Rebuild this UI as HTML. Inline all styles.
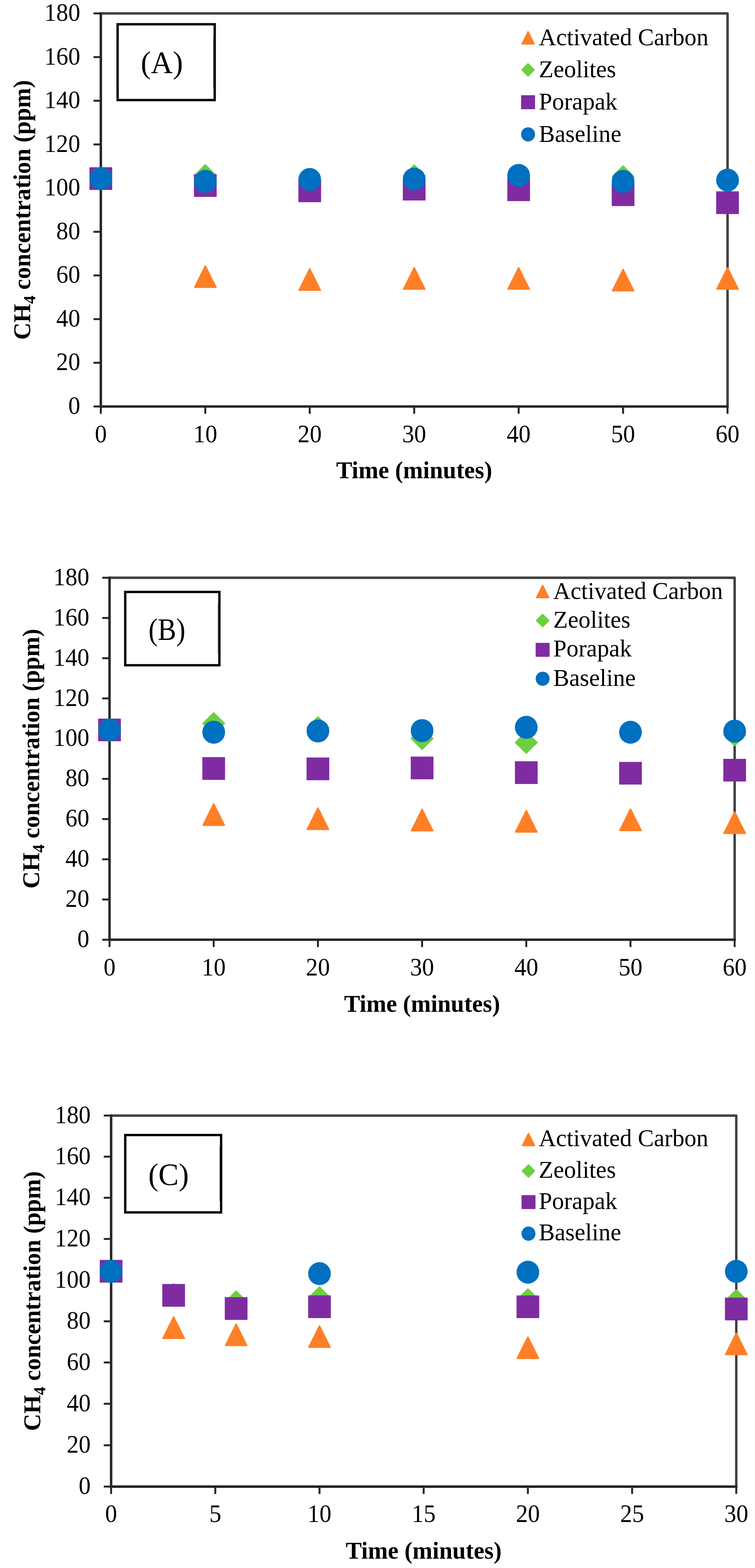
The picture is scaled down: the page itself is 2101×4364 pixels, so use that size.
<!DOCTYPE html>
<html lang="en">
<head>
<meta charset="utf-8">
<title>CH4 concentration vs time</title>
<style>
html,body{margin:0;padding:0;background:#fff;}
body{width:2101px;height:4364px;overflow:hidden;}
svg{display:block;}
text{font-family:"Liberation Serif",serif;fill:#000;}
.t{font-size:66.67px;}
.k{font-size:70.2px;}
.b{font-size:68.2px;font-weight:bold;}
.l{font-size:87.0px;}
</style>
</head>
<body>
<svg width="2101" height="4364" viewBox="0 0 2101 4364">
<rect x="0" y="0" width="2101" height="4364" fill="#ffffff"/>

<g id="chartA">
<path d="M280.6,37.3 H2024.6 V1131.3" fill="none" stroke="#404040" stroke-width="6.8" stroke-linejoin="round"/>
<line x1="260.2" y1="1131.3" x2="280.6" y2="1131.3" stroke="#262626" stroke-width="5.4"/>
<text class="k" transform="translate(223.3,1152.0) scale(0.95,1)" text-anchor="end">0</text>
<line x1="260.2" y1="1009.7" x2="280.6" y2="1009.7" stroke="#262626" stroke-width="5.4"/>
<text class="k" transform="translate(223.3,1030.4) scale(0.95,1)" text-anchor="end">20</text>
<line x1="260.2" y1="888.2" x2="280.6" y2="888.2" stroke="#262626" stroke-width="5.4"/>
<text class="k" transform="translate(223.3,908.9) scale(0.95,1)" text-anchor="end">40</text>
<line x1="260.2" y1="766.6" x2="280.6" y2="766.6" stroke="#262626" stroke-width="5.4"/>
<text class="k" transform="translate(223.3,787.3) scale(0.95,1)" text-anchor="end">60</text>
<line x1="260.2" y1="645.1" x2="280.6" y2="645.1" stroke="#262626" stroke-width="5.4"/>
<text class="k" transform="translate(223.3,665.8) scale(0.95,1)" text-anchor="end">80</text>
<line x1="260.2" y1="523.5" x2="280.6" y2="523.5" stroke="#262626" stroke-width="5.4"/>
<text class="k" transform="translate(223.3,544.2) scale(0.95,1)" text-anchor="end">100</text>
<line x1="260.2" y1="402.0" x2="280.6" y2="402.0" stroke="#262626" stroke-width="5.4"/>
<text class="k" transform="translate(223.3,422.7) scale(0.95,1)" text-anchor="end">120</text>
<line x1="260.2" y1="280.4" x2="280.6" y2="280.4" stroke="#262626" stroke-width="5.4"/>
<text class="k" transform="translate(223.3,301.1) scale(0.95,1)" text-anchor="end">140</text>
<line x1="260.2" y1="158.9" x2="280.6" y2="158.9" stroke="#262626" stroke-width="5.4"/>
<text class="k" transform="translate(223.3,179.6) scale(0.95,1)" text-anchor="end">160</text>
<line x1="260.2" y1="37.3" x2="280.6" y2="37.3" stroke="#262626" stroke-width="5.4"/>
<text class="k" transform="translate(223.3,58.0) scale(0.95,1)" text-anchor="end">180</text>
<line x1="280.6" y1="1131.3" x2="280.6" y2="1151.7" stroke="#262626" stroke-width="5.4"/>
<text class="k" transform="translate(280.6,1231.1) scale(0.95,1)" text-anchor="middle">0</text>
<line x1="571.3" y1="1131.3" x2="571.3" y2="1151.7" stroke="#262626" stroke-width="5.4"/>
<text class="k" transform="translate(571.3,1231.1) scale(0.95,1)" text-anchor="middle">10</text>
<line x1="861.9" y1="1131.3" x2="861.9" y2="1151.7" stroke="#262626" stroke-width="5.4"/>
<text class="k" transform="translate(861.9,1231.1) scale(0.95,1)" text-anchor="middle">20</text>
<line x1="1152.6" y1="1131.3" x2="1152.6" y2="1151.7" stroke="#262626" stroke-width="5.4"/>
<text class="k" transform="translate(1152.6,1231.1) scale(0.95,1)" text-anchor="middle">30</text>
<line x1="1443.3" y1="1131.3" x2="1443.3" y2="1151.7" stroke="#262626" stroke-width="5.4"/>
<text class="k" transform="translate(1443.3,1231.1) scale(0.95,1)" text-anchor="middle">40</text>
<line x1="1733.9" y1="1131.3" x2="1733.9" y2="1151.7" stroke="#262626" stroke-width="5.4"/>
<text class="k" transform="translate(1733.9,1231.1) scale(0.95,1)" text-anchor="middle">50</text>
<line x1="2024.6" y1="1131.3" x2="2024.6" y2="1151.7" stroke="#262626" stroke-width="5.4"/>
<text class="k" transform="translate(2024.6,1231.1) scale(0.95,1)" text-anchor="middle">60</text>
<line x1="280.6" y1="33.9" x2="280.6" y2="1134.7" stroke="#262626" stroke-width="6.8"/>
<line x1="277.2" y1="1131.3" x2="2028.0" y2="1131.3" stroke="#262626" stroke-width="6.8"/>
<text class="b" transform="translate(1152.6,1331.3) scale(0.978,1)" text-anchor="middle">Time (minutes)</text>
<text class="b" transform="translate(84.0,584.3) rotate(-90) scale(0.978,1)" text-anchor="middle">CH<tspan font-size="47.1" dy="14">4</tspan><tspan dy="-14"> concentration (ppm)</tspan></text>
<rect x="327.3" y="67.5" width="270.2" height="211.0" fill="#fff" stroke="#000" stroke-width="6.5"/>
<line x1="331.2" y1="98.5" x2="331.2" y2="247.5" stroke="#c8c8c8" stroke-width="1.5"/>
<line x1="593.5" y1="98.5" x2="593.5" y2="247.5" stroke="#8c8c8c" stroke-width="1.5"/>
<text class="l" transform="translate(450.4,203.0) scale(0.972,1)" text-anchor="middle">(A)</text>
<polygon points="280.6,467.4 310.2,526.6 251.0,526.6" fill="#FF7F27" stroke="#FF7F27" stroke-width="4.0" stroke-linejoin="round"/>
<polygon points="571.3,740.4 600.9,799.6 541.7,799.6" fill="#FF7F27" stroke="#FF7F27" stroke-width="4.0" stroke-linejoin="round"/>
<polygon points="861.9,748.4 891.5,807.6 832.3,807.6" fill="#FF7F27" stroke="#FF7F27" stroke-width="4.0" stroke-linejoin="round"/>
<polygon points="1152.6,745.4 1182.2,804.6 1123.0,804.6" fill="#FF7F27" stroke="#FF7F27" stroke-width="4.0" stroke-linejoin="round"/>
<polygon points="1443.3,745.4 1472.9,804.6 1413.7,804.6" fill="#FF7F27" stroke="#FF7F27" stroke-width="4.0" stroke-linejoin="round"/>
<polygon points="1733.9,750.1 1763.5,809.3 1704.3,809.3" fill="#FF7F27" stroke="#FF7F27" stroke-width="4.0" stroke-linejoin="round"/>
<polygon points="2024.6,745.4 2054.2,804.6 1995.0,804.6" fill="#FF7F27" stroke="#FF7F27" stroke-width="4.0" stroke-linejoin="round"/>
<polygon points="280.6,467.4 310.2,497.0 280.6,526.6 251.0,497.0" fill="#6CCF3E" stroke="#6CCF3E" stroke-width="4.0" stroke-linejoin="round"/>
<polygon points="571.3,458.8 600.9,488.4 571.3,518.0 541.7,488.4" fill="#6CCF3E" stroke="#6CCF3E" stroke-width="4.0" stroke-linejoin="round"/>
<polygon points="861.9,475.4 891.5,505.0 861.9,534.6 832.3,505.0" fill="#6CCF3E" stroke="#6CCF3E" stroke-width="4.0" stroke-linejoin="round"/>
<polygon points="1152.6,459.9 1182.2,489.5 1152.6,519.1 1123.0,489.5" fill="#6CCF3E" stroke="#6CCF3E" stroke-width="4.0" stroke-linejoin="round"/>
<polygon points="1443.3,465.4 1472.9,495.0 1443.3,524.6 1413.7,495.0" fill="#6CCF3E" stroke="#6CCF3E" stroke-width="4.0" stroke-linejoin="round"/>
<polygon points="1733.9,462.2 1763.5,491.8 1733.9,521.4 1704.3,491.8" fill="#6CCF3E" stroke="#6CCF3E" stroke-width="4.0" stroke-linejoin="round"/>
<polygon points="2024.6,480.9 2054.2,510.5 2024.6,540.1 1995.0,510.5" fill="#6CCF3E" stroke="#6CCF3E" stroke-width="4.0" stroke-linejoin="round"/>
<rect x="249.0" y="465.4" width="63.2" height="63.2" rx="1.2" fill="#7F2CA2"/>
<rect x="539.7" y="484.8" width="63.2" height="63.2" rx="1.2" fill="#7F2CA2"/>
<rect x="830.3" y="499.5" width="63.2" height="63.2" rx="1.2" fill="#7F2CA2"/>
<rect x="1121.0" y="494.9" width="63.2" height="63.2" rx="1.2" fill="#7F2CA2"/>
<rect x="1411.7" y="496.5" width="63.2" height="63.2" rx="1.2" fill="#7F2CA2"/>
<rect x="1702.3" y="510.4" width="63.2" height="63.2" rx="1.2" fill="#7F2CA2"/>
<rect x="1993.0" y="532.6" width="63.2" height="63.2" rx="1.2" fill="#7F2CA2"/>
<ellipse cx="280.6" cy="497.3" rx="31.60" ry="32.00" fill="#0070C0"/>
<ellipse cx="571.3" cy="504.8" rx="31.60" ry="32.00" fill="#0070C0"/>
<ellipse cx="861.9" cy="499.6" rx="31.60" ry="32.00" fill="#0070C0"/>
<ellipse cx="1152.6" cy="498.5" rx="31.60" ry="32.00" fill="#0070C0"/>
<ellipse cx="1443.3" cy="488.2" rx="31.60" ry="32.00" fill="#0070C0"/>
<ellipse cx="1733.9" cy="505.0" rx="31.60" ry="32.00" fill="#0070C0"/>
<ellipse cx="2024.6" cy="501.2" rx="31.60" ry="32.00" fill="#0070C0"/>
<polygon points="1469.5,88.3 1486.4,122.1 1452.6,122.1" fill="#FF7F27" stroke="#FF7F27" stroke-width="3.6" stroke-linejoin="round"/>
<text class="t" x="1499.5" y="126.4">Activated Carbon</text>
<polygon points="1469.5,177.6 1486.4,194.5 1469.5,211.4 1452.6,194.5" fill="#6CCF3E" stroke="#6CCF3E" stroke-width="3.6" stroke-linejoin="round"/>
<text class="t" x="1499.5" y="214.8">Zeolites</text>
<rect x="1450.1" y="265.1" width="38.8" height="38.8" rx="1.1" fill="#7F2CA2"/>
<text class="t" x="1499.5" y="305.3">Porapak</text>
<ellipse cx="1469.5" cy="374.0" rx="19.40" ry="19.80" fill="#0070C0"/>
<text class="t" x="1499.5" y="394.5">Baseline</text>
</g>
<g id="chartB">
<path d="M304.8,1608.0 H2044.4 V2615.4" fill="none" stroke="#404040" stroke-width="6.8" stroke-linejoin="round"/>
<line x1="284.4" y1="2615.4" x2="304.8" y2="2615.4" stroke="#262626" stroke-width="5.4"/>
<text class="k" transform="translate(248.6,2636.1) scale(0.95,1)" text-anchor="end">0</text>
<line x1="284.4" y1="2503.5" x2="304.8" y2="2503.5" stroke="#262626" stroke-width="5.4"/>
<text class="k" transform="translate(248.6,2524.2) scale(0.95,1)" text-anchor="end">20</text>
<line x1="284.4" y1="2391.5" x2="304.8" y2="2391.5" stroke="#262626" stroke-width="5.4"/>
<text class="k" transform="translate(248.6,2412.2) scale(0.95,1)" text-anchor="end">40</text>
<line x1="284.4" y1="2279.6" x2="304.8" y2="2279.6" stroke="#262626" stroke-width="5.4"/>
<text class="k" transform="translate(248.6,2300.3) scale(0.95,1)" text-anchor="end">60</text>
<line x1="284.4" y1="2167.7" x2="304.8" y2="2167.7" stroke="#262626" stroke-width="5.4"/>
<text class="k" transform="translate(248.6,2188.4) scale(0.95,1)" text-anchor="end">80</text>
<line x1="284.4" y1="2055.7" x2="304.8" y2="2055.7" stroke="#262626" stroke-width="5.4"/>
<text class="k" transform="translate(248.6,2076.4) scale(0.95,1)" text-anchor="end">100</text>
<line x1="284.4" y1="1943.8" x2="304.8" y2="1943.8" stroke="#262626" stroke-width="5.4"/>
<text class="k" transform="translate(248.6,1964.5) scale(0.95,1)" text-anchor="end">120</text>
<line x1="284.4" y1="1831.9" x2="304.8" y2="1831.9" stroke="#262626" stroke-width="5.4"/>
<text class="k" transform="translate(248.6,1852.6) scale(0.95,1)" text-anchor="end">140</text>
<line x1="284.4" y1="1719.9" x2="304.8" y2="1719.9" stroke="#262626" stroke-width="5.4"/>
<text class="k" transform="translate(248.6,1740.6) scale(0.95,1)" text-anchor="end">160</text>
<line x1="284.4" y1="1608.0" x2="304.8" y2="1608.0" stroke="#262626" stroke-width="5.4"/>
<text class="k" transform="translate(248.6,1628.7) scale(0.95,1)" text-anchor="end">180</text>
<line x1="304.8" y1="2615.4" x2="304.8" y2="2635.8" stroke="#262626" stroke-width="5.4"/>
<text class="k" transform="translate(304.8,2715.2) scale(0.95,1)" text-anchor="middle">0</text>
<line x1="594.7" y1="2615.4" x2="594.7" y2="2635.8" stroke="#262626" stroke-width="5.4"/>
<text class="k" transform="translate(594.7,2715.2) scale(0.95,1)" text-anchor="middle">10</text>
<line x1="884.7" y1="2615.4" x2="884.7" y2="2635.8" stroke="#262626" stroke-width="5.4"/>
<text class="k" transform="translate(884.7,2715.2) scale(0.95,1)" text-anchor="middle">20</text>
<line x1="1174.6" y1="2615.4" x2="1174.6" y2="2635.8" stroke="#262626" stroke-width="5.4"/>
<text class="k" transform="translate(1174.6,2715.2) scale(0.95,1)" text-anchor="middle">30</text>
<line x1="1464.5" y1="2615.4" x2="1464.5" y2="2635.8" stroke="#262626" stroke-width="5.4"/>
<text class="k" transform="translate(1464.5,2715.2) scale(0.95,1)" text-anchor="middle">40</text>
<line x1="1754.5" y1="2615.4" x2="1754.5" y2="2635.8" stroke="#262626" stroke-width="5.4"/>
<text class="k" transform="translate(1754.5,2715.2) scale(0.95,1)" text-anchor="middle">50</text>
<line x1="2044.4" y1="2615.4" x2="2044.4" y2="2635.8" stroke="#262626" stroke-width="5.4"/>
<text class="k" transform="translate(2044.4,2715.2) scale(0.95,1)" text-anchor="middle">60</text>
<line x1="304.8" y1="1604.6" x2="304.8" y2="2618.8" stroke="#262626" stroke-width="6.8"/>
<line x1="301.4" y1="2615.4" x2="2047.8" y2="2615.4" stroke="#262626" stroke-width="6.8"/>
<text class="b" transform="translate(1174.6,2816.0) scale(0.978,1)" text-anchor="middle">Time (minutes)</text>
<text class="b" transform="translate(109.0,2111.7) rotate(-90) scale(0.978,1)" text-anchor="middle">CH<tspan font-size="47.1" dy="14">4</tspan><tspan dy="-14"> concentration (ppm)</tspan></text>
<rect x="348.5" y="1647.5" width="262.0" height="204.0" fill="#fff" stroke="#000" stroke-width="6.5"/>
<line x1="352.4" y1="1678.5" x2="352.4" y2="1820.5" stroke="#c8c8c8" stroke-width="1.5"/>
<line x1="606.5" y1="1678.5" x2="606.5" y2="1820.5" stroke="#8c8c8c" stroke-width="1.5"/>
<text class="l" transform="translate(464.6,1781.2) scale(0.884,1)" text-anchor="middle">(B)</text>
<polygon points="304.8,2001.9 334.4,2061.1 275.2,2061.1" fill="#FF7F27" stroke="#FF7F27" stroke-width="4.0" stroke-linejoin="round"/>
<polygon points="594.7,2237.5 624.3,2296.7 565.1,2296.7" fill="#FF7F27" stroke="#FF7F27" stroke-width="4.0" stroke-linejoin="round"/>
<polygon points="884.7,2249.0 914.3,2308.2 855.1,2308.2" fill="#FF7F27" stroke="#FF7F27" stroke-width="4.0" stroke-linejoin="round"/>
<polygon points="1174.6,2252.7 1204.2,2311.9 1145.0,2311.9" fill="#FF7F27" stroke="#FF7F27" stroke-width="4.0" stroke-linejoin="round"/>
<polygon points="1464.5,2256.2 1494.1,2315.4 1434.9,2315.4" fill="#FF7F27" stroke="#FF7F27" stroke-width="4.0" stroke-linejoin="round"/>
<polygon points="1754.5,2252.0 1784.1,2311.2 1724.9,2311.2" fill="#FF7F27" stroke="#FF7F27" stroke-width="4.0" stroke-linejoin="round"/>
<polygon points="2044.4,2260.0 2074.0,2319.2 2014.8,2319.2" fill="#FF7F27" stroke="#FF7F27" stroke-width="4.0" stroke-linejoin="round"/>
<polygon points="304.8,2001.9 334.4,2031.5 304.8,2061.1 275.2,2031.5" fill="#6CCF3E" stroke="#6CCF3E" stroke-width="4.0" stroke-linejoin="round"/>
<polygon points="594.7,1984.1 624.3,2013.7 594.7,2043.3 565.1,2013.7" fill="#6CCF3E" stroke="#6CCF3E" stroke-width="4.0" stroke-linejoin="round"/>
<polygon points="884.7,1995.6 914.3,2025.2 884.7,2054.8 855.1,2025.2" fill="#6CCF3E" stroke="#6CCF3E" stroke-width="4.0" stroke-linejoin="round"/>
<polygon points="1174.6,2025.9 1204.2,2055.5 1174.6,2085.1 1145.0,2055.5" fill="#6CCF3E" stroke="#6CCF3E" stroke-width="4.0" stroke-linejoin="round"/>
<polygon points="1464.5,2036.7 1494.1,2066.3 1464.5,2095.9 1434.9,2066.3" fill="#6CCF3E" stroke="#6CCF3E" stroke-width="4.0" stroke-linejoin="round"/>
<polygon points="1754.5,2008.1 1784.1,2037.7 1754.5,2067.3 1724.9,2037.7" fill="#6CCF3E" stroke="#6CCF3E" stroke-width="4.0" stroke-linejoin="round"/>
<polygon points="2044.4,2015.9 2074.0,2045.5 2044.4,2075.1 2014.8,2045.5" fill="#6CCF3E" stroke="#6CCF3E" stroke-width="4.0" stroke-linejoin="round"/>
<rect x="273.2" y="1999.9" width="63.2" height="63.2" rx="1.2" fill="#7F2CA2"/>
<rect x="563.1" y="2107.2" width="63.2" height="63.2" rx="1.2" fill="#7F2CA2"/>
<rect x="853.1" y="2108.3" width="63.2" height="63.2" rx="1.2" fill="#7F2CA2"/>
<rect x="1143.0" y="2105.8" width="63.2" height="63.2" rx="1.2" fill="#7F2CA2"/>
<rect x="1432.9" y="2118.8" width="63.2" height="63.2" rx="1.2" fill="#7F2CA2"/>
<rect x="1722.9" y="2120.4" width="63.2" height="63.2" rx="1.2" fill="#7F2CA2"/>
<rect x="2012.8" y="2111.9" width="63.2" height="63.2" rx="1.2" fill="#7F2CA2"/>
<ellipse cx="304.8" cy="2031.8" rx="31.60" ry="32.00" fill="#0070C0"/>
<ellipse cx="594.7" cy="2037.9" rx="31.60" ry="32.00" fill="#0070C0"/>
<ellipse cx="884.7" cy="2034.5" rx="31.60" ry="32.00" fill="#0070C0"/>
<ellipse cx="1174.6" cy="2033.4" rx="31.60" ry="32.00" fill="#0070C0"/>
<ellipse cx="1464.5" cy="2024.2" rx="31.60" ry="32.00" fill="#0070C0"/>
<ellipse cx="1754.5" cy="2038.0" rx="31.60" ry="32.00" fill="#0070C0"/>
<ellipse cx="2044.4" cy="2034.9" rx="31.60" ry="32.00" fill="#0070C0"/>
<polygon points="1510.0,1629.3 1526.9,1663.1 1493.1,1663.1" fill="#FF7F27" stroke="#FF7F27" stroke-width="3.6" stroke-linejoin="round"/>
<text class="t" x="1539.5" y="1666.7">Activated Carbon</text>
<polygon points="1510.0,1710.1 1526.9,1727.0 1510.0,1743.9 1493.1,1727.0" fill="#6CCF3E" stroke="#6CCF3E" stroke-width="3.6" stroke-linejoin="round"/>
<text class="t" x="1539.5" y="1746.5">Zeolites</text>
<rect x="1490.6" y="1789.3" width="38.8" height="38.8" rx="1.1" fill="#7F2CA2"/>
<text class="t" x="1539.5" y="1827.2">Porapak</text>
<ellipse cx="1510.0" cy="1889.0" rx="19.40" ry="19.80" fill="#0070C0"/>
<text class="t" x="1539.5" y="1909.3">Baseline</text>
</g>
<g id="chartC">
<path d="M309.2,3104.8 H2048.9 V4137.5" fill="none" stroke="#404040" stroke-width="6.8" stroke-linejoin="round"/>
<line x1="288.8" y1="4137.4" x2="309.2" y2="4137.4" stroke="#262626" stroke-width="5.4"/>
<text class="k" transform="translate(252.4,4158.1) scale(0.95,1)" text-anchor="end">0</text>
<line x1="288.8" y1="4022.5" x2="309.2" y2="4022.5" stroke="#262626" stroke-width="5.4"/>
<text class="k" transform="translate(252.4,4043.2) scale(0.95,1)" text-anchor="end">20</text>
<line x1="288.8" y1="3906.9" x2="309.2" y2="3906.9" stroke="#262626" stroke-width="5.4"/>
<text class="k" transform="translate(252.4,3927.6) scale(0.95,1)" text-anchor="end">40</text>
<line x1="288.8" y1="3792.0" x2="309.2" y2="3792.0" stroke="#262626" stroke-width="5.4"/>
<text class="k" transform="translate(252.4,3812.7) scale(0.95,1)" text-anchor="end">60</text>
<line x1="288.8" y1="3677.4" x2="309.2" y2="3677.4" stroke="#262626" stroke-width="5.4"/>
<text class="k" transform="translate(252.4,3698.1) scale(0.95,1)" text-anchor="end">80</text>
<line x1="288.8" y1="3562.8" x2="309.2" y2="3562.8" stroke="#262626" stroke-width="5.4"/>
<text class="k" transform="translate(252.4,3583.5) scale(0.95,1)" text-anchor="end">100</text>
<line x1="288.8" y1="3448.2" x2="309.2" y2="3448.2" stroke="#262626" stroke-width="5.4"/>
<text class="k" transform="translate(252.4,3468.9) scale(0.95,1)" text-anchor="end">120</text>
<line x1="288.8" y1="3333.6" x2="309.2" y2="3333.6" stroke="#262626" stroke-width="5.4"/>
<text class="k" transform="translate(252.4,3354.3) scale(0.95,1)" text-anchor="end">140</text>
<line x1="288.8" y1="3219.2" x2="309.2" y2="3219.2" stroke="#262626" stroke-width="5.4"/>
<text class="k" transform="translate(252.4,3239.9) scale(0.95,1)" text-anchor="end">160</text>
<line x1="288.8" y1="3104.8" x2="309.2" y2="3104.8" stroke="#262626" stroke-width="5.4"/>
<text class="k" transform="translate(252.4,3125.5) scale(0.95,1)" text-anchor="end">180</text>
<line x1="309.2" y1="4137.5" x2="309.2" y2="4157.9" stroke="#262626" stroke-width="5.4"/>
<text class="k" transform="translate(309.2,4235.9) scale(0.95,1)" text-anchor="middle">0</text>
<line x1="599.1" y1="4137.5" x2="599.1" y2="4157.9" stroke="#262626" stroke-width="5.4"/>
<text class="k" transform="translate(599.1,4235.9) scale(0.95,1)" text-anchor="middle">5</text>
<line x1="889.1" y1="4137.5" x2="889.1" y2="4157.9" stroke="#262626" stroke-width="5.4"/>
<text class="k" transform="translate(889.1,4235.9) scale(0.95,1)" text-anchor="middle">10</text>
<line x1="1179.0" y1="4137.5" x2="1179.0" y2="4157.9" stroke="#262626" stroke-width="5.4"/>
<text class="k" transform="translate(1179.0,4235.9) scale(0.95,1)" text-anchor="middle">15</text>
<line x1="1469.0" y1="4137.5" x2="1469.0" y2="4157.9" stroke="#262626" stroke-width="5.4"/>
<text class="k" transform="translate(1469.0,4235.9) scale(0.95,1)" text-anchor="middle">20</text>
<line x1="1759.0" y1="4137.5" x2="1759.0" y2="4157.9" stroke="#262626" stroke-width="5.4"/>
<text class="k" transform="translate(1759.0,4235.9) scale(0.95,1)" text-anchor="middle">25</text>
<line x1="2048.9" y1="4137.5" x2="2048.9" y2="4157.9" stroke="#262626" stroke-width="5.4"/>
<text class="k" transform="translate(2048.9,4235.9) scale(0.95,1)" text-anchor="middle">30</text>
<line x1="309.2" y1="3101.4" x2="309.2" y2="4140.9" stroke="#262626" stroke-width="6.8"/>
<line x1="305.8" y1="4137.5" x2="2052.3" y2="4137.5" stroke="#262626" stroke-width="6.8"/>
<text class="b" transform="translate(1179.0,4337.5) scale(0.978,1)" text-anchor="middle">Time (minutes)</text>
<text class="b" transform="translate(112.0,3621.2) rotate(-90) scale(0.978,1)" text-anchor="middle">CH<tspan font-size="47.1" dy="14">4</tspan><tspan dy="-14"> concentration (ppm)</tspan></text>
<rect x="348.5" y="3159.0" width="266.8" height="215.3" fill="#fff" stroke="#000" stroke-width="6.5"/>
<line x1="352.4" y1="3190.0" x2="352.4" y2="3343.3" stroke="#c8c8c8" stroke-width="1.5"/>
<line x1="611.3" y1="3190.0" x2="611.3" y2="3343.3" stroke="#8c8c8c" stroke-width="1.5"/>
<text class="l" transform="translate(469.0,3297.7) scale(0.972,1)" text-anchor="middle">(C)</text>
<polygon points="309.2,3508.4 338.8,3567.6 279.6,3567.6" fill="#FF7F27" stroke="#FF7F27" stroke-width="4.0" stroke-linejoin="round"/>
<polygon points="483.2,3665.5 512.8,3724.7 453.6,3724.7" fill="#FF7F27" stroke="#FF7F27" stroke-width="4.0" stroke-linejoin="round"/>
<polygon points="657.1,3685.4 686.7,3744.6 627.5,3744.6" fill="#FF7F27" stroke="#FF7F27" stroke-width="4.0" stroke-linejoin="round"/>
<polygon points="889.1,3690.4 918.7,3749.6 859.5,3749.6" fill="#FF7F27" stroke="#FF7F27" stroke-width="4.0" stroke-linejoin="round"/>
<polygon points="1469.0,3721.3 1498.6,3780.5 1439.4,3780.5" fill="#FF7F27" stroke="#FF7F27" stroke-width="4.0" stroke-linejoin="round"/>
<polygon points="2048.9,3710.5 2078.5,3769.7 2019.3,3769.7" fill="#FF7F27" stroke="#FF7F27" stroke-width="4.0" stroke-linejoin="round"/>
<polygon points="309.2,3508.4 338.8,3538.0 309.2,3567.6 279.6,3538.0" fill="#6CCF3E" stroke="#6CCF3E" stroke-width="4.0" stroke-linejoin="round"/>
<polygon points="483.2,3573.0 512.8,3602.6 483.2,3632.2 453.6,3602.6" fill="#6CCF3E" stroke="#6CCF3E" stroke-width="4.0" stroke-linejoin="round"/>
<polygon points="657.1,3593.7 686.7,3623.3 657.1,3652.9 627.5,3623.3" fill="#6CCF3E" stroke="#6CCF3E" stroke-width="4.0" stroke-linejoin="round"/>
<polygon points="889.1,3582.2 918.7,3611.8 889.1,3641.4 859.5,3611.8" fill="#6CCF3E" stroke="#6CCF3E" stroke-width="4.0" stroke-linejoin="round"/>
<polygon points="1469.0,3587.7 1498.6,3617.3 1469.0,3646.9 1439.4,3617.3" fill="#6CCF3E" stroke="#6CCF3E" stroke-width="4.0" stroke-linejoin="round"/>
<polygon points="2048.9,3590.0 2078.5,3619.6 2048.9,3649.2 2019.3,3619.6" fill="#6CCF3E" stroke="#6CCF3E" stroke-width="4.0" stroke-linejoin="round"/>
<rect x="277.6" y="3506.4" width="63.2" height="63.2" rx="1.2" fill="#7F2CA2"/>
<rect x="451.6" y="3573.5" width="63.2" height="63.2" rx="1.2" fill="#7F2CA2"/>
<rect x="625.5" y="3610.2" width="63.2" height="63.2" rx="1.2" fill="#7F2CA2"/>
<rect x="857.5" y="3605.3" width="63.2" height="63.2" rx="1.2" fill="#7F2CA2"/>
<rect x="1437.4" y="3605.4" width="63.2" height="63.2" rx="1.2" fill="#7F2CA2"/>
<rect x="2017.3" y="3611.5" width="63.2" height="63.2" rx="1.2" fill="#7F2CA2"/>
<ellipse cx="309.2" cy="3538.3" rx="31.60" ry="32.00" fill="#0070C0"/>
<ellipse cx="889.1" cy="3544.8" rx="31.60" ry="32.00" fill="#0070C0"/>
<ellipse cx="1469.0" cy="3540.7" rx="31.60" ry="32.00" fill="#0070C0"/>
<ellipse cx="2048.9" cy="3538.4" rx="31.60" ry="32.00" fill="#0070C0"/>
<polygon points="1470.7,3154.6 1487.6,3188.4 1453.8,3188.4" fill="#FF7F27" stroke="#FF7F27" stroke-width="3.6" stroke-linejoin="round"/>
<text class="t" x="1499.2" y="3190.4">Activated Carbon</text>
<polygon points="1470.7,3242.2 1487.6,3259.1 1470.7,3276.0 1453.8,3259.1" fill="#6CCF3E" stroke="#6CCF3E" stroke-width="3.6" stroke-linejoin="round"/>
<text class="t" x="1499.2" y="3277.8">Zeolites</text>
<rect x="1451.3" y="3326.3" width="38.8" height="38.8" rx="1.1" fill="#7F2CA2"/>
<text class="t" x="1499.2" y="3364.9">Porapak</text>
<ellipse cx="1470.7" cy="3433.4" rx="19.40" ry="19.80" fill="#0070C0"/>
<text class="t" x="1499.2" y="3452.0">Baseline</text>
</g>
</svg>
</body>
</html>
